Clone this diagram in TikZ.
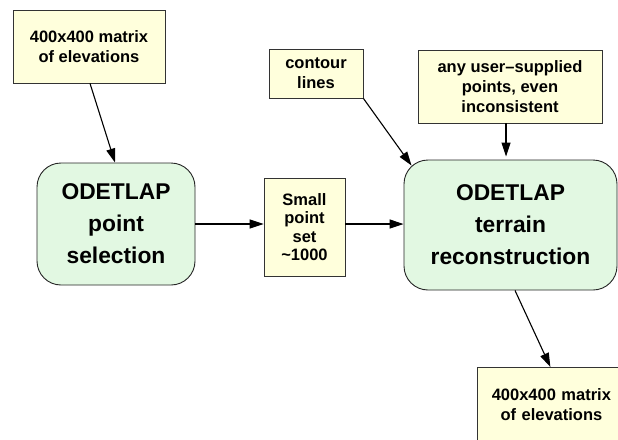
\documentclass[tikz,border=0pt]{standalone}
\usepackage{fontspec}
\setmainfont{Liberation Sans}
\usetikzlibrary{arrows.meta}
\definecolor{boxyellow}{HTML}{FFFFDC}
\definecolor{boxgreen}{HTML}{E2F8E2}
\begin{document}
\begin{tikzpicture}[x=1pt,y=-1pt,
  note/.style={draw=black!80, fill=boxyellow, line width=0.8pt, align=center,
    font=\fontsize{16.5}{20}\selectfont\bfseries, inner sep=0pt},
  proc/.style={draw=black!85, fill=boxgreen, line width=0.9pt, rounded corners=24pt,
    align=center, font=\fontsize{22.8}{32}\selectfont\bfseries, inner sep=0pt},
  arr/.style={-{Triangle[length=14pt,width=9pt]}, line width=1.1pt}]
\useasboundingbox (0,0) rectangle (618,439);
\fill[white] (0,0) rectangle (618,439);
\begin{scope}
\clip (0,0) rectangle (618,439);
\node[note, minimum width=152pt, minimum height=73pt] (b1) at (89,46.5) {400x400 matrix\\of elevations};
\node[note, minimum width=94pt, minimum height=49pt] (ct) at (316,73.5) {contour\\lines};
\node[note, minimum width=184pt, minimum height=73pt] (us) at (510,86.5) {any user--supplied\\points, even\\inconsistent};
\node[note, minimum width=81pt, minimum height=98pt, font=\fontsize{16.5}{18.5}\selectfont\bfseries] (sm) at (304.5,227) {Small\\point\\set\\\textasciitilde1000};
\node[proc, minimum width=158pt, minimum height=122pt] (sel) at (116,224) {ODETLAP\\point\\selection};
\node[proc, minimum width=213pt, minimum height=130pt] (ter) at (510.5,225) {ODETLAP\\terrain\\reconstruction};
\node[note, anchor=north west, text width=148pt, inner xsep=0pt, inner ysep=21pt, text depth=40pt] (out) at (477,367) {400x400 matrix\\of elevations};
\end{scope}
\draw[arr] ([xshift=1pt]b1.south) -- ([xshift=-1pt]sel.north);
\draw[arr] (sel.east) -- (sel.east -| sm.west);
\draw[arr] (sel.east -| sm.east) -- (sel.east -| ter.west);
\draw[arr] (ct.south east) -- ([xshift=8pt,yshift=-6pt]ter.north west);
\draw[arr] ([xshift=-4pt]us.south) -- ([xshift=-4.5pt,yshift=3pt]ter.north);
\draw[arr] ([xshift=4.5pt]ter.south) -- ([xshift=-1pt]out.north);
\end{tikzpicture}
\end{document}
